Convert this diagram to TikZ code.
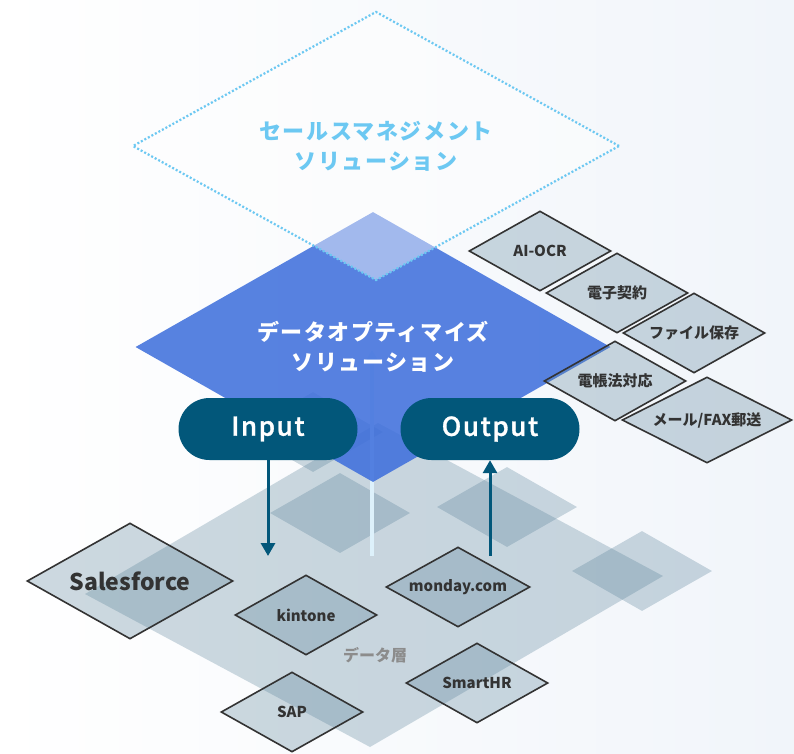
\documentclass[tikz,border=0pt]{standalone}
\usepackage{fontspec}
\setmainfont{Noto Sans CJK JP}
\newfontfamily\medfont{Noto Sans CJK JP Medium}
\usetikzlibrary{shapes.geometric,arrows.meta}

\definecolor{ink}{HTML}{333333}
\definecolor{layer}{HTML}{5A8299}
\definecolor{petrol}{HTML}{02577A}
\definecolor{optblue}{HTML}{3D6EDC}
\definecolor{sky}{HTML}{6CC8F2}
\definecolor{faint}{HTML}{8C8C8C}
\definecolor{bgtint}{HTML}{F1F5FA}
\definecolor{liftcol}{HTML}{DDF1FB}

\begin{document}
\begin{tikzpicture}[x=1pt,y=-1pt,
  app/.style={
  % The shape:
  diamond, aspect=1.8,
  % The size:
  minimum width=142pt, minimum height=80pt, inner sep=0pt,
  % The border:
  draw=ink, line width=1.6pt,
  % The filling (see-through, so overlaps get darker):
  fill=layer, fill opacity=0.3, text opacity=1,
  % Font
  text=ink, font=\bfseries\fontsize{15}{18}\selectfont
  },
  tile/.style={
  diamond,
  minimum width=140pt, minimum height=80pt, inner sep=0pt,
  fill=layer, fill opacity=0.3
  },
  layerbox/.style={
  diamond, aspect=1.8,
  inner sep=0pt, align=center,
  text opacity=1,
  font=\bfseries\fontsize{22}{30}\selectfont\addfontfeatures{LetterSpace=7}
  },
  pill/.style={
  rectangle, rounded corners=31pt,
  minimum width=179pt, minimum height=62pt,
  fill=petrol, text=white,
  font=\medfont\fontsize{26}{30}\selectfont\addfontfeatures{LetterSpace=6,FakeBold=1.2}
  },
  flow/.style={draw=petrol, line width=3pt, -{Triangle[width=14pt,length=13pt]}},
  lift/.style={draw=liftcol, line width=4.5pt, -{Triangle[width=12pt,length=11pt]}}
  ]
  \useasboundingbox (0,0) rectangle (794,753);
  \shade[left color=white, right color=bgtint] (0,0) rectangle (794,753);

  % data layer
  \fill[layer, opacity=0.3] (85,594) -- (378,423) -- (663,576) -- (370,747) -- cycle;
  \node (tileA) [tile] at (313,432) {};
  \node (tileB) [tile] at (340,513) {};
  \node (tileC) [tile] at (507,507) {};
  \node (tileD) [tile] at (642,571) {};

  \coordinate (liftStart) at (372,556);
  \coordinate (liftEnd) at (372,350);
  \draw[lift] (liftStart) -- (liftEnd);

  % solution layers
  \node (opt) [layerbox, fill=optblue, fill opacity=0.86, text=white,
    minimum width=475pt, minimum height=270pt] at (373,347)
    {データオプティマイズ\\ソリューション};
  \node (sales) [layerbox, draw=sky, line width=2.2pt, dash pattern=on 2pt off 2pt,
    fill=white, fill opacity=0.45, draw opacity=1, text=sky,
    minimum width=487pt, minimum height=269pt] at (376,146)
    {セールスマネジメント\\ソリューション};

  % options
  \node (ocr) [app] at (540,251) {AI-OCR};
  \node (keiyaku) [app] at (617,293) {電子契約};
  \node (hozon) [app] at (694,333) {ファイル保存};
  \node (denchou) [app] at (615,381) {電帳法対応};
  \node (fax) [app, minimum width=170pt, minimum height=86pt] at (707,420) {メール/FAX郵送};

  % data sources
  \node (sf) [app, minimum width=206pt, minimum height=116pt,
    font=\bfseries\fontsize{23}{26}\selectfont] at (130,581) {Salesforce};
  \node (kintone) [app] at (306,615) {kintone};
  \node (sap) [app] at (292,712) {SAP};
  \node (monday) [app, minimum width=144pt] at (458,587) {monday.com};
  \node (smarthr) [app] at (477,683) {SmartHR};
  \node (dataLabel) [text=faint, font=\bfseries\fontsize{16}{18}\selectfont] at (375,655) {データ層};

  % input / output
  \node (in) [pill] at (268,429) {Input};
  \node (out) [pill] at (490,429) {Output};
  \coordinate (inEnd) at (268,556);
  \coordinate (outStart) at (490,556);
  \draw[flow] (in) -- (inEnd);
  \draw[flow] (outStart) -- (out);
\end{tikzpicture}
\end{document}
